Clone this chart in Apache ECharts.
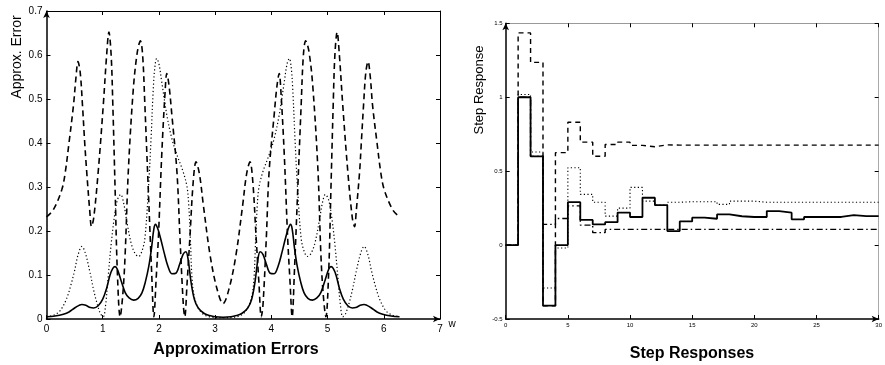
<!DOCTYPE html>
<html><head><meta charset="utf-8">
<script src="https://cdn.jsdelivr.net/npm/echarts@6/dist/echarts.min.js"></script>
<style>html,body{margin:0;padding:0;background:#fff}#c{width:885px;height:365px}</style>
</head><body><div id="c"></div>
<script>
// ---------- Left panel: approximation errors vs w ----------
const wSolid = [0.00,0.15,0.30,0.40,0.50,0.58,0.63,0.70,0.78,0.84,0.92,1.00,1.07,1.13,1.18,1.22,1.26,1.32,1.40,1.47,1.55,1.63,1.70,1.76,1.82,1.87,1.91,1.94,1.98,2.03,2.09,2.16,2.23,2.30,2.37,2.43,2.48,2.52,2.57,2.63,2.70,2.80,2.90,3.00,3.14,
  3.28,3.38,3.48,3.58,3.65,3.71,3.76,3.80,3.85,3.91,3.98,4.05,4.12,4.19,4.25,4.30,4.34,4.37,4.41,4.46,4.52,4.58,4.65,4.73,4.81,4.88,4.96,5.02,5.06,5.10,5.15,5.21,5.28,5.36,5.44,5.50,5.58,5.65,5.70,5.78,5.88,5.98,6.13,6.28];
const vSolid = [0.005,0.007,0.011,0.016,0.025,0.031,0.033,0.031,0.026,0.025,0.030,0.045,0.070,0.100,0.115,0.119,0.113,0.090,0.060,0.048,0.043,0.047,0.060,0.085,0.120,0.163,0.205,0.215,0.205,0.183,0.152,0.120,0.103,0.104,0.125,0.147,0.153,0.135,0.085,0.045,0.025,0.013,0.008,0.005,0.004,
  0.005,0.008,0.013,0.025,0.045,0.085,0.135,0.153,0.147,0.125,0.104,0.103,0.120,0.152,0.183,0.205,0.215,0.205,0.163,0.120,0.085,0.060,0.047,0.043,0.048,0.060,0.090,0.113,0.119,0.115,0.100,0.070,0.045,0.030,0.025,0.026,0.031,0.033,0.031,0.025,0.016,0.011,0.007,0.005];

const wDotted = [0.00,0.15,0.25,0.36,0.44,0.50,0.56,0.63,0.69,0.77,0.84,0.90,0.96,1.01,1.05,1.10,1.15,1.20,1.26,1.32,1.37,1.43,1.51,1.58,1.64,1.70,1.75,1.81,1.86,1.90,1.93,1.96,2.00,2.05,2.14,2.23,2.32,2.43,2.50,2.53,2.56,2.59,2.63,2.70,2.80,2.95,3.14,
  3.33,3.48,3.58,3.65,3.69,3.72,3.75,3.78,3.85,3.96,4.05,4.14,4.23,4.28,4.32,4.35,4.38,4.42,4.47,4.53,4.58,4.64,4.70,4.77,4.85,4.91,4.96,5.02,5.08,5.13,5.18,5.23,5.27,5.32,5.38,5.44,5.51,5.59,5.65,5.72,5.78,5.84,5.92,6.03,6.13,6.28];
const vDotted = [0.005,0.010,0.020,0.047,0.080,0.110,0.145,0.165,0.150,0.108,0.065,0.035,0.012,0.005,0.030,0.100,0.170,0.225,0.270,0.283,0.265,0.221,0.170,0.148,0.142,0.155,0.183,0.289,0.410,0.524,0.575,0.592,0.580,0.539,0.464,0.410,0.373,0.335,0.300,0.260,0.180,0.090,0.050,0.025,0.010,0.004,0.003,
  0.004,0.010,0.025,0.050,0.090,0.180,0.260,0.300,0.335,0.373,0.410,0.464,0.539,0.580,0.592,0.575,0.524,0.410,0.289,0.183,0.155,0.142,0.148,0.170,0.221,0.265,0.283,0.270,0.225,0.170,0.100,0.030,0.005,0.012,0.035,0.065,0.108,0.150,0.165,0.145,0.110,0.080,0.047,0.020,0.010,0.005];

const wDashed = [0.00,0.12,0.27,0.33,0.40,0.48,0.525,0.56,0.60,0.64,0.68,0.715,0.77,0.80,0.84,0.92,1.01,1.07,1.11,1.15,1.18,1.22,1.26,1.31,1.36,1.40,1.455,1.545,1.616,1.67,1.71,1.75,1.81,1.87,1.91,1.95,1.99,2.05,2.11,2.14,2.18,2.23,2.32,2.375,2.435,2.46,2.50,2.55,2.61,2.66,2.72,2.79,2.91,3.03,3.14,
  3.25,3.37,3.49,3.56,3.62,3.67,3.73,3.78,3.82,3.85,3.91,3.96,4.05,4.10,4.14,4.17,4.23,4.29,4.33,4.37,4.41,4.47,4.53,4.57,4.61,4.67,4.74,4.83,4.88,4.92,4.97,5.02,5.06,5.10,5.13,5.17,5.21,5.27,5.36,5.44,5.48,5.51,5.57,5.60,5.64,5.68,5.72,5.76,5.80,5.88,5.95,6.01,6.16,6.28];
const vDashed = [0.232,0.248,0.293,0.330,0.400,0.486,0.550,0.585,0.560,0.486,0.400,0.335,0.245,0.210,0.230,0.335,0.486,0.600,0.652,0.600,0.486,0.297,0.108,0.005,0.060,0.150,0.335,0.524,0.607,0.632,0.600,0.486,0.297,0.108,0.005,0.090,0.184,0.373,0.517,0.558,0.530,0.464,0.335,0.183,0.030,0.005,0.080,0.183,0.312,0.357,0.330,0.259,0.145,0.070,0.035,
  0.070,0.145,0.259,0.330,0.357,0.312,0.183,0.080,0.005,0.030,0.183,0.335,0.464,0.530,0.558,0.517,0.373,0.184,0.090,0.005,0.108,0.297,0.486,0.600,0.632,0.607,0.524,0.335,0.150,0.060,0.005,0.108,0.297,0.486,0.600,0.652,0.600,0.486,0.335,0.230,0.210,0.245,0.335,0.400,0.486,0.560,0.585,0.550,0.486,0.400,0.330,0.293,0.248,0.232];

const leftXTicks = [0,1,2,3,4,5,6,7];
const leftYTicks = [0,0.1,0.2,0.3,0.4,0.5,0.6,0.7];

// ---------- Right panel: step responses ----------
const stepT = [0,1,2,3,4,5,6,7,8,9,10,11,12,13,14,15,16,17,18,19,20,21,22,23,24,25,26,27,28,29,30];
const stepSolid   = [0,1.000,0.600,-0.410,0,0.290,0.170,0.140,0.155,0.220,0.190,0.320,0.270,0.095,0.160,0.185,0.178,0.207,0.195,0.190,0.190,0.230,0.219,0.174,0.190,0.190,0.190,0.203,0.196,0.196,0.196];
const stepDashed  = [0,1.435,1.236,-0.410,0.625,0.831,0.696,0.601,0.680,0.696,0.674,0.665,0.678,0.676,0.676,0.676,0.676,0.676,0.676,0.676,0.676,0.676,0.676,0.676,0.676,0.676,0.676,0.676,0.676,0.676,0.676];
const stepDotted  = [0,1.018,0.630,-0.290,-0.020,0.523,0.343,0.290,0.196,0.250,0.390,0.297,0.270,0.290,0.293,0.293,0.293,0.275,0.297,0.297,0.290,0.290,0.290,0.290,0.290,0.290,0.290,0.290,0.290,0.290,0.290];
const stepDashDot = [0,1.000,0.600,0.140,0.180,0.265,0.135,0.084,0.106,0.106,0.106,0.106,0.106,0.106,0.106,0.106,0.106,0.106,0.106,0.106,0.106,0.106,0.106,0.106,0.106,0.106,0.106,0.106,0.106,0.106,0.106];

const rightXTicks = [0,5,10,15,20,25,30];
const rightYTicks = [-0.5,0,0.5,1,1.5];

// ---------- build ----------
const pairs = (xs, ys) => xs.map((x, i) => [x, ys[i]]);
const FONT = '"Liberation Sans", Arial, Helvetica, sans-serif';

function fmtTick(list){ return v => { for (const t of list) if (Math.abs(t - v) < 1e-9) return String(t); return ''; }; }

const chart = echarts.init(document.getElementById('c'), null, {renderer: 'canvas'});

const grids = [
  {left: 46.5, top: 11, width: 393.5, height: 308},
  {left: 505.7, top: 23.3, width: 373.5, height: 295.7}
];

function mainX(gi, min, max, interval, ticks, fs, margin){
  return {type:'value', gridIndex: gi, min, max, interval, position:'bottom',
    axisLine:{show:true, onZero:false, lineStyle:{color:'#000', width:1.5}, symbol:['none','arrow'], symbolSize:[5,7]},
    axisTick:{show:true, inside:true, length:4, lineStyle:{color:'#000', width:1}},
    axisLabel:{show:true, margin, fontSize: fs, color:'#000', fontFamily: FONT, formatter: fmtTick(ticks)},
    splitLine:{show:false}};
}
function mainY(gi, min, max, interval, ticks, fs, margin){
  return {type:'value', gridIndex: gi, min, max, interval, position:'left',
    axisLine:{show:true, onZero:false, lineStyle:{color:'#000', width:1.5}, symbol:['none','arrow'], symbolSize:[5,7]},
    axisTick:{show:true, inside:true, length:4, lineStyle:{color:'#000', width:1}},
    axisLabel:{show:true, margin, fontSize: fs, color:'#000', fontFamily: FONT, formatter: fmtTick(ticks)},
    splitLine:{show:false}};
}
function boxX(gi, min, max, interval, color){
  return {type:'value', gridIndex: gi, min, max, interval, position:'top',
    axisLine:{show:true, onZero:false, lineStyle:{color, width:1}},
    axisTick:{show:true, inside:true, length:4, lineStyle:{color:'#000', width:1}},
    axisLabel:{show:false}, splitLine:{show:false}};
}
function boxY(gi, min, max, interval, color){
  return {type:'value', gridIndex: gi, min, max, interval, position:'right',
    axisLine:{show:true, onZero:false, lineStyle:{color, width:1}},
    axisTick:{show:true, inside:true, length:4, lineStyle:{color:'#000', width:1}},
    axisLabel:{show:false}, splitLine:{show:false}};
}

const option = {
  animation: false,
  backgroundColor: '#fff',
  grid: grids,
  xAxis: [
    mainX(0, 0, 7, 1, leftXTicks, 10, 5),
    boxX(0, 0, 7, 1, '#000'),
    mainX(1, 0, 30, 5, rightXTicks, 6, 3),
    boxX(1, 0, 30, 5, '#999')
  ],
  yAxis: [
    mainY(0, 0, 0.7, 0.1, leftYTicks, 10, 4),
    boxY(0, 0, 0.7, 0.1, '#000'),
    mainY(1, -0.5, 1.5, 0.5, rightYTicks, 6, 3),
    boxY(1, -0.5, 1.5, 0.5, '#aaa')
  ],
  series: [
    {type:'line', xAxisIndex:0, yAxisIndex:0, data: pairs(wDashed, vDashed), showSymbol:false, smooth:0.35,
      lineStyle:{color:'#000', width:1.6, type:[6,4]}},
    {type:'line', xAxisIndex:0, yAxisIndex:0, data: pairs(wDotted, vDotted), showSymbol:false, smooth:0.35,
      lineStyle:{color:'#000', width:1.2, type:[1.2,2.4]}},
    {type:'line', xAxisIndex:0, yAxisIndex:0, data: pairs(wSolid, vSolid), showSymbol:false, smooth:0.35,
      lineStyle:{color:'#000', width:1.6, type:'solid'}},

    {type:'line', xAxisIndex:2, yAxisIndex:2, step:'end', data: pairs(stepT, stepDashed), showSymbol:false,
      lineStyle:{color:'#000', width:1.4, type:[5,4]}},
    {type:'line', xAxisIndex:2, yAxisIndex:2, step:'end', data: pairs(stepT, stepDotted), showSymbol:false,
      lineStyle:{color:'#000', width:1.1, type:[1.2,2.4]}},
    {type:'line', xAxisIndex:2, yAxisIndex:2, step:'end', data: pairs(stepT, stepDashDot), showSymbol:false,
      lineStyle:{color:'#000', width:1.4, type:[6,3,1.5,3]}},
    {type:'line', xAxisIndex:2, yAxisIndex:2, step:'end', data: pairs(stepT, stepSolid), showSymbol:false,
      lineStyle:{color:'#000', width:1.8, type:'solid'}}
  ],
  graphic: [
    {type:'text', x:17, y:57, rotation: Math.PI/2,
      style:{text:'Approx. Error', fontSize:14, fontFamily:FONT, fill:'#000', align:'center', verticalAlign:'middle'}},
    {type:'text', x:479, y:90, rotation: Math.PI/2,
      style:{text:'Step Response', fontSize:13, fontFamily:FONT, fill:'#000', align:'center', verticalAlign:'middle'}},
    {type:'text', x:452, y:324,
      style:{text:'w', fontSize:10, fontFamily:FONT, fill:'#000', align:'center', verticalAlign:'middle'}},
    {type:'text', x:236, y:350,
      style:{text:'Approximation Errors', fontSize:16, fontWeight:'bold', fontFamily:FONT, fill:'#000', align:'center', verticalAlign:'middle'}},
    {type:'text', x:692, y:354,
      style:{text:'Step Responses', fontSize:16, fontWeight:'bold', fontFamily:FONT, fill:'#000', align:'center', verticalAlign:'middle'}}
  ]
};
chart.setOption(option);
</script>
</body></html>
